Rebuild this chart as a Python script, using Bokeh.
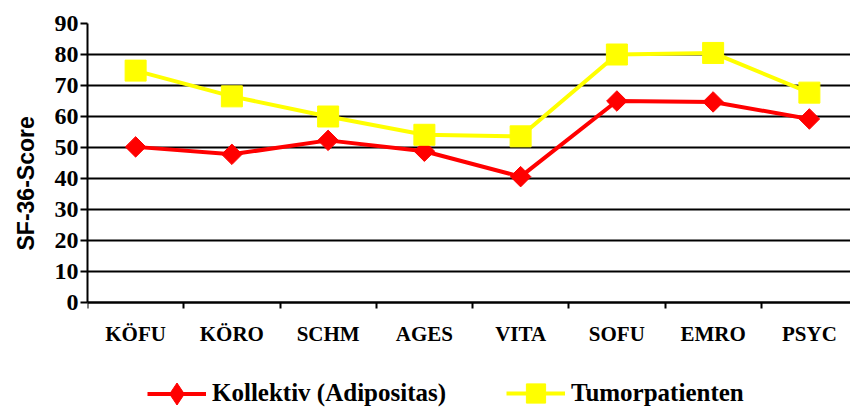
import numpy as np
from bokeh.plotting import figure
from bokeh.models import Range1d, FixedTicker, Legend, LegendItem, Title
from bokeh.embed import file_html
from bokeh.resources import INLINE

# SF-36 subscale scores for the two groups
categories = ["KÖFU", "KÖRO", "SCHM", "AGES", "VITA", "SOFU", "EMRO", "PSYC"]
kollektiv = [50.2, 47.8, 52.3, 48.8, 40.6, 65.0, 64.7, 59.2]
tumor = [74.8, 66.5, 60.0, 54.1, 53.6, 80.0, 80.5, 67.7]
series_names = ["Kollektiv (Adipositas)", "Tumorpatienten"]
y_title = "SF-36-Score"
y_ticks = [0, 10, 20, 30, 40, 50, 60, 70, 80, 90]

RED = "#FF0000"
YELLOW = "#FFFF00"
SERIF = "Liberation Serif"
SANS = "Liberation Sans"

# layout in pixels: the plotting frame runs to the bottom of the canvas so the
# legend can sit inside it; the score axis occupies rows 23..302
W, H = 850, 410
frame_left, frame_top, axis_bottom = 87, 23, 302
slot_px = 96.25
px_per_unit = (axis_bottom - frame_top) / 90.0
y_start = -(H - axis_bottom) / px_per_unit
x_end = (W - frame_left) / slot_px

# category slots are centred at i + 0.5; the last slot runs slightly past the right edge
x = np.arange(len(categories)) + 0.5

p = figure(width=W, height=H, output_backend="svg", toolbar_location=None,
           x_range=Range1d(0, x_end), y_range=Range1d(y_start, 90),
           min_border_left=frame_left, min_border_right=0,
           min_border_top=frame_top, min_border_bottom=0)
p.outline_line_color = None
p.background_fill_color = "white"
p.border_fill_color = "white"

# x axis pinned at score 0, category names between boundary ticks
p.xaxis.fixed_location = 0
p.xaxis.ticker = FixedTicker(ticks=list(x), minor_ticks=list(range(len(categories) + 1)))
p.xaxis.major_label_overrides = {float(xi): c for xi, c in zip(x, categories)}
p.xaxis.major_tick_out = 0
p.xaxis.major_tick_in = 0
p.xaxis.minor_tick_out = 6
p.xaxis.minor_tick_in = 0
p.xaxis.minor_tick_line_color = "black"
p.xaxis.minor_tick_line_width = 2
p.xaxis.axis_line_color = "black"
p.xaxis.axis_line_width = 2
p.xaxis.major_label_text_font = SERIF
p.xaxis.major_label_text_font_style = "bold"
p.xaxis.major_label_text_font_size = "21px"
p.xaxis.major_label_text_color = "black"
p.xaxis.major_label_standoff = 13
p.xgrid.visible = False

# y axis
p.yaxis.bounds = (0, 90)
p.yaxis.ticker = FixedTicker(ticks=y_ticks)
p.yaxis.major_tick_out = 7
p.yaxis.major_tick_in = 0
p.yaxis.major_tick_line_color = "black"
p.yaxis.major_tick_line_width = 2
p.yaxis.minor_tick_line_color = None
p.yaxis.axis_line_color = "black"
p.yaxis.axis_line_width = 2
p.yaxis.major_label_text_font = SERIF
p.yaxis.major_label_text_font_style = "bold"
p.yaxis.major_label_text_font_size = "24px"
p.yaxis.major_label_text_color = "black"
p.yaxis.major_label_standoff = 2

# vertical axis title, anchored from the bottom of the frame
p.add_layout(Title(text=y_title, align="left", vertical_align="top", offset=160,
                   standoff=22, text_font=SANS, text_font_style="bold",
                   text_font_size="23px", text_color="black"), "left")

p.ygrid.ticker = FixedTicker(ticks=y_ticks)
p.ygrid.grid_line_color = "black"
p.ygrid.grid_line_width = 2

# series (the upright diamonds are the legend key and sit under the plot markers)
red_line = p.line(x, kollektiv, line_color=RED, line_width=4)
red_key = p.scatter(x, kollektiv, marker="diamond", size=12, fill_color=RED, line_color=RED)
red_marks = p.scatter(x, kollektiv, marker="square", angle=np.pi / 4, size=14.5,
                      fill_color=RED, line_color=RED)
yel_line = p.line(x, tumor, line_color=YELLOW, line_width=4)
yel_marks = p.scatter(x, tumor, marker="square", size=21, fill_color=YELLOW, line_color=YELLOW)


def make_legend(label, renderers, glyph_h, left, center_y):
    leg = Legend(items=[LegendItem(label=label, renderers=renderers)],
                 orientation="horizontal", glyph_width=59, glyph_height=glyph_h,
                 label_standoff=6, padding=0, margin=0, spacing=0,
                 border_line_color=None, background_fill_alpha=0,
                 label_text_font=SERIF, label_text_font_style="bold",
                 label_text_font_size="25px", label_text_color="black",
                 label_height=glyph_h)
    bottom = center_y + glyph_h / 2
    leg.location = (left - frame_left, H - bottom)
    return leg


p.add_layout(make_legend(series_names[0], [red_line, red_key], 55, 147, 393), "center")
p.add_layout(make_legend(series_names[1], [yel_line, yel_marks], 48, 506, 393), "center")

open("out.html", "w").write(file_html(p, INLINE))
